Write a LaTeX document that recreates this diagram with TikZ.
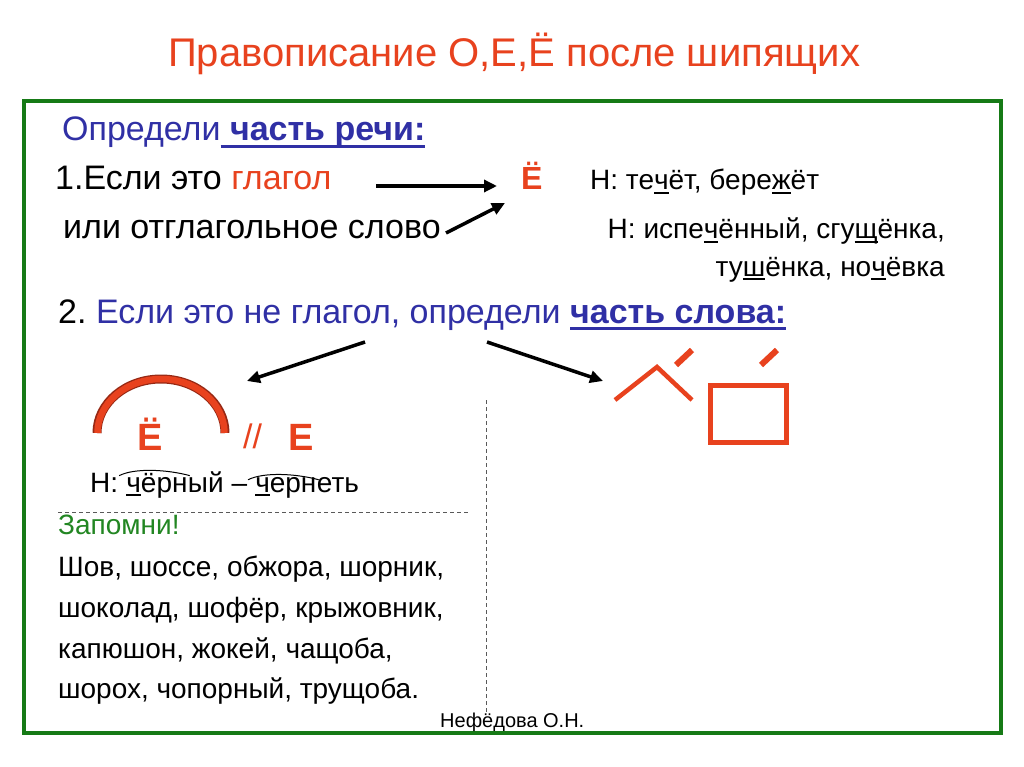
\documentclass[tikz,border=0pt]{standalone}
\usepackage{fontspec}
\setmainfont{Liberation Sans}
\usetikzlibrary{arrows.meta}
\definecolor{myred}{RGB}{232,66,30}
\definecolor{myblue}{RGB}{48,48,165}
\definecolor{framegreen}{RGB}{22,122,22}
\definecolor{textgreen}{RGB}{34,134,34}
\definecolor{arcedge}{RGB}{150,40,20}
\newcommand\ulw[2][4pt]{\setbox0\hbox{#2}\rlap{\rule[-#1]{\wd0}{2pt}}\box0}
\newcommand\ulh[1]{\setbox0\hbox{#1}\rlap{\rule[-7pt]{\wd0}{2.6pt}}\box0}
\frenchspacing
\begin{document}
\begin{tikzpicture}[x=1pt,y=-1pt,
  txt/.style={inner sep=0pt, anchor=base west, font=\fontsize{34}{40}\selectfont},
  ex/.style={inner sep=0pt, anchor=base west, font=\fontsize{28}{34}\selectfont},
  big/.style={inner sep=0pt, anchor=base west, text=myred, font=\fontsize{38}{44}\selectfont\bfseries},
  arr/.style={line width=3.5pt, -{Triangle[length=13pt,width=12pt]}},
  sym/.style={myred, line cap=butt, line join=miter},
  dsh/.style={gray!70!black, line width=1pt, dash pattern=on 4pt off 3pt}]
\useasboundingbox (0,0) rectangle (1024,767);
\fill[white] (0,0) rectangle (1024,767);
\draw[framegreen, line width=4pt] (24,101) rectangle (1001,733);

% title
\node[inner sep=0pt, anchor=base west, text=myred, font=\fontsize{40}{48}\selectfont] (title) at (168,67) {Правописание О,Е,Ё после шипящих};

% part of speech
\node[txt, text=myblue] (opr) at (62,141) {Определи\ulh{\bfseries\ часть речи:}};
\node[txt] (if1) at (55,190) {1.Если это \textcolor{myred}{глагол}};
\node[txt] (otgl) at (63,239) {или отглагольное слово};
\node[inner sep=0pt, anchor=base west, text=myred, font=\fontsize{32}{38}\selectfont\bfseries] (Eyo) at (521,190) {Ё};
\node[ex] (ex1) at (590,190) {Н: те\ulw{ч}ёт, бере\ulw{ж}ёт};
\node[ex, anchor=base east] (ex2) at (945,239) {Н: испе\ulw{ч}ённый, сгу\ulw{щ}ёнка,};
\node[ex, anchor=base east] (ex3) at (945,276) {ту\ulw{ш}ёнка, но\ulw{ч}ёвка};

\coordinate (a1s) at (376,186);
\coordinate (a1e) at (497,186);
\coordinate (a2s) at (446,233);
\coordinate (a2e) at (505,203);
\draw[arr] (a1s) -- (a1e);
\draw[arr] (a2s) -- (a2e);

% part of word
\node[txt] (if2) at (58,323) {2. \textcolor{myblue}{Если это не глагол, определи \ulh{\bfseries часть слова:}}};
\coordinate (a3s) at (365,342);
\coordinate (a3e) at (247,381);
\coordinate (a4s) at (487,342);
\coordinate (a4e) at (603,381);
\draw[arr] (a3s) -- (a3e);
\draw[arr] (a4s) -- (a4e);

% root arc
\draw[arcedge, line width=9pt] (97,433) arc[start angle=180, end angle=360, x radius=64, y radius=54];
\draw[myred, line width=6.5pt] (97.5,433) arc[start angle=180, end angle=360, x radius=63.5, y radius=54];
\node[big] (Ebig) at (137,450) {Ё};
\node[inner sep=0pt, anchor=base west, text=myred, font=\fontsize{34}{40}\selectfont] (sl) at (243,448) {//};
\node[big] (Ebig2) at (288,450) {Е};

% example with roots
\node[ex] (n1) at (90,492) {Н: \mbox{}};
\node[ex, anchor=base west] (r1) at (n1.base east) {\ulw{ч}ёрн};
\node[ex, anchor=base west] (m1) at (r1.base east) {ый – \mbox{}};
\node[ex, anchor=base west] (r2) at (m1.base east) {\ulw{ч}ерн};
\node[ex, anchor=base west] (m2) at (r2.base east) {еть};
\draw[line width=1pt] ([xshift=-7pt,yshift=-3pt]r1.north west) .. controls +(16,-8) and +(-22,-6) .. ([xshift=2pt,yshift=-3pt]r1.north east);
\draw[line width=1pt] ([xshift=-7pt,yshift=-3pt]r2.north west) .. controls +(16,-8) and +(-22,-6) .. ([xshift=2pt,yshift=-3pt]r2.north east);

% dashed separators
\coordinate (h1) at (58,512);
\coordinate (h2) at (470,512);
\coordinate (v1) at (486,400);
\coordinate (v2) at (486,712);
\draw[dsh] (h1) -- (h2);
\draw[dsh] (v1) -- (v2);

% remember
\node[ex, text=textgreen] (zap) at (58,534) {Запомни!};
\node[ex] (w1) at (58,576) {Шов, шоссе, обжора, шорник,};
\node[ex] (w2) at (58,617) {шоколад, шофёр, крыжовник,};
\node[ex] (w3) at (58,658) {капюшон, жокей, чащоба,};
\node[ex] (w4) at (58,698) {шорох, чопорный, трущоба.};
\node[inner sep=0pt, anchor=base west, font=\fontsize{20}{24}\selectfont] (auth) at (440,727) {Нефёдова О.Н.};

% suffix and ending symbols
\draw[sym, line width=4.5pt] (615,400) -- (657,367) -- (692,400);
\draw[sym, line width=6pt] (676,365) -- (692,350);
\draw[sym, line width=5pt] (710,385) rectangle (786,442);
\draw[sym, line width=6pt] (761,365) -- (777,350);
\end{tikzpicture}
\end{document}
